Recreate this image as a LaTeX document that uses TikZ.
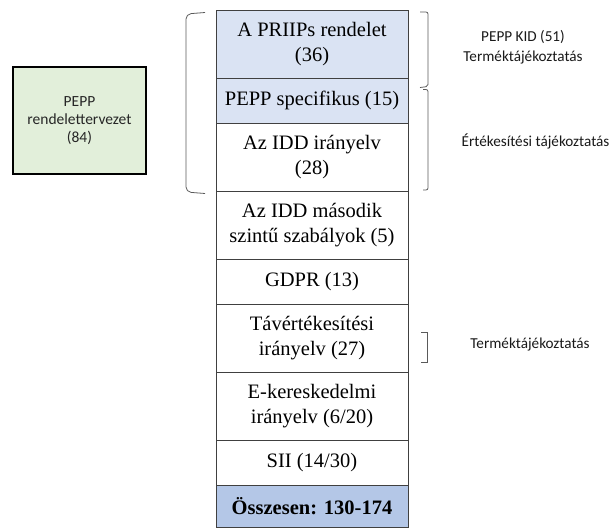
\documentclass[tikz,border=0pt]{standalone}
\usepackage{fontspec}
\setmainfont{Liberation Serif}
\newfontfamily\labelfont{Carlito}
\definecolor{rowblue}{HTML}{DAE3F3}
\definecolor{sumblue}{HTML}{B4C7E7}
\definecolor{boxgreen}{HTML}{E2EFDA}
\definecolor{cellline}{HTML}{404040}
\definecolor{bracketgray}{HTML}{5A5A5A}
\begin{document}
\begin{tikzpicture}[x=1pt,y=-1pt,
  cell/.style={draw=cellline, line width=0.9pt, minimum width=192pt,
    inner sep=0pt, outer sep=0pt, align=center, anchor=north,
    font=\fontsize{20.5}{24.5}\selectfont},
  twoline/.style={cell, minimum height=68pt},
  oneline/.style={cell, minimum height=45pt},
  bracket/.style={draw=bracketgray, line width=0.8pt, rounded corners=2pt},
  sidelabel/.style={align=center, text=black!90, font=\labelfont\fontsize{15.2}{20}\selectfont}]
\useasboundingbox (0,0) rectangle (615,527);

% stacked list of sources
\node[twoline, fill=rowblue] (priips) at (312,10) {A PRIIPs rendelet\\(36)};
\node[oneline, fill=rowblue] (spec) at (priips.south) {PEPP specifikus (15)};
\node[twoline] (idd) at (spec.south) {Az IDD irányelv\\(28)};
\node[twoline] (idd2) at (idd.south) {Az IDD második\\szintű szabályok (5)};
\node[oneline] (gdpr) at (idd2.south) {GDPR (13)};
\node[twoline] (tav) at (gdpr.south) {Távértékesítési\\irányelv (27)};
\node[twoline] (eker) at (tav.south) {E-kereskedelmi\\irányelv (6/20)};
\node[oneline] (sii) at (eker.south) {SII (14/30)};
\node[cell, fill=sumblue, minimum height=42pt, font=\fontsize{20.5}{24.5}\selectfont\bfseries] (sum) at (sii.south) {Összesen: 130-174};

% draft regulation box
\node[draw=black, line width=2pt, fill=boxgreen, minimum width=133pt, minimum height=107pt,
  align=center, text=black!85, font=\labelfont\fontsize{15.5}{18}\selectfont] (draft) at (79.5,120.5)
  {PEPP\\rendelettervezet\\(84)};

% brackets
\coordinate (lb1) at (205,12.5);
\coordinate (lb2) at (205,193.5);
\draw[bracket, rounded corners=5pt] (lb1) -- (186,14) -- (186,192) -- (lb2);
\coordinate (rb1a) at (420,12);
\coordinate (rb1b) at (420,87.5);
\draw[bracket] (rb1a) -- (428,12) -- (428,86.5) -- (rb1b);
\coordinate (rb2a) at (423,89.5);
\coordinate (rb2b) at (423,190);
\draw[bracket] (rb2a) -- (428,89.5) -- (428,190) -- (rb2b);
\coordinate (rb3a) at (421,332);
\coordinate (rb3b) at (421,362);
\draw[bracket, rounded corners=0pt] (rb3a) -- (427,332) -- (427,362) -- (rb3b);

% labels beside the brackets
\node[sidelabel] (kid) at (523,47) {PEPP KID (51)\\Terméktájékoztatás};
\node[sidelabel] (sales) at (535.5,141) {Értékesítési tájékoztatás};
\node[sidelabel] (prod) at (530,345) {Terméktájékoztatás};
\end{tikzpicture}
\end{document}
